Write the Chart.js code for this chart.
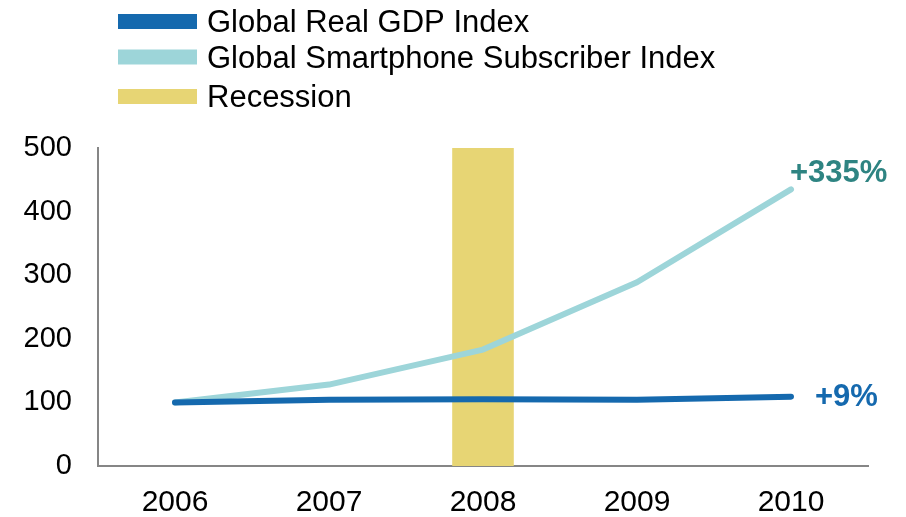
<!DOCTYPE html>
<html>
<head>
<meta charset="utf-8">
<script src="https://cdn.jsdelivr.net/npm/chart.js@4"></script>
<style>
  html, body { margin: 0; padding: 0; background: #fff; }
  #wrap { width: 906px; height: 517px; }
</style>
</head>
<body>
<div id="wrap"><canvas id="myChart"></canvas></div>
<script>
// index values, 2006 = 100
const years = ['2006', '2007', '2008', '2009', '2010'];
const gdpIndex = [100, 104, 105, 104, 109];
const smartphoneIndex = [100, 128, 183, 289, 435];
const recession = [null, null, 500, null, null];
const yTicks = [0, 100, 200, 300, 400, 500];

const FONT = '"Liberation Sans", Arial, sans-serif';
const GDP_BLUE = '#1569ae';
const PHONE_BLUE = '#9dd5d9';
const YELLOW = '#e7d574';

// stacked legend at the top left
const legendRows = [21.5, 57, 96.5];
const legendStack = {
  id: 'legendStack',
  afterDraw(chart) {
    const ctx = chart.ctx;
    ctx.save();
    ctx.font = '31px ' + FONT;
    ctx.textBaseline = 'middle';
    chart.data.datasets.forEach((ds, i) => {
      const y = legendRows[i];
      ctx.fillStyle = ds.legendColor;
      ctx.fillRect(118, y - 7.5, 79, 15);
      ctx.fillStyle = '#000';
      ctx.fillText(ds.label, 207, y + 2);
    });
    ctx.restore();
  }
};

// growth labels at the end of each line
const endLabels = {
  id: 'endLabels',
  afterDatasetsDraw(chart) {
    const ctx = chart.ctx;
    const x = chart.scales.x;
    const y = chart.scales.y;
    const last = years.length - 1;
    const pct = arr => '+' + Math.round((arr[last] / arr[0] - 1) * 100) + '%';
    ctx.save();
    ctx.font = 'bold 31px ' + FONT;
    ctx.textBaseline = 'middle';
    ctx.textAlign = 'left';
    ctx.fillStyle = '#2e8482';
    ctx.fillText(pct(smartphoneIndex), x.getPixelForValue(last) - 1, y.getPixelForValue(smartphoneIndex[last]) - 16);
    ctx.fillStyle = GDP_BLUE;
    ctx.fillText(pct(gdpIndex), x.getPixelForValue(last) + 24, y.getPixelForValue(gdpIndex[last]) + 1);
    ctx.restore();
  }
};

const ctx = document.getElementById('myChart');

new Chart(ctx, {
  data: {
    labels: years,
    datasets: [{
      type: 'line',
      label: 'Global Real GDP Index',
      data: gdpIndex,
      borderColor: GDP_BLUE,
      legendColor: GDP_BLUE,
      borderWidth: 6,
      borderCapStyle: 'round',
      borderJoinStyle: 'round',
      pointRadius: 0,
      tension: 0,
      order: 1
    }, {
      type: 'line',
      label: 'Global Smartphone Subscriber Index',
      data: smartphoneIndex,
      borderColor: PHONE_BLUE,
      legendColor: PHONE_BLUE,
      borderWidth: 6,
      borderCapStyle: 'round',
      borderJoinStyle: 'round',
      pointRadius: 0,
      tension: 0,
      order: 2
    }, {
      type: 'bar',
      label: 'Recession',
      data: recession,
      backgroundColor: YELLOW,
      legendColor: YELLOW,
      barPercentage: 0.4,
      categoryPercentage: 1,
      order: 3
    }]
  },
  options: {
    responsive: true,
    maintainAspectRatio: false,
    animation: false,
    layout: { padding: { top: 148, right: 38, left: 0, bottom: 0 } },
    plugins: {
      legend: { display: false },
      tooltip: { enabled: false }
    },
    scales: {
      x: {
        offset: true,
        grid: { display: false, drawTicks: false },
        border: { color: '#868686', width: 2 },
        ticks: { color: '#000', font: { family: FONT, size: 30 }, padding: 19 },
        afterFit: s => { s.height = 51; }
      },
      y: {
        min: 0,
        max: 500,
        afterBuildTicks: s => { s.ticks = yTicks.map(v => ({ value: v })); },
        grid: { display: false, drawTicks: false },
        border: { color: '#868686', width: 2 },
        ticks: { color: '#000', font: { family: FONT, size: 29 }, padding: 26 },
        afterFit: s => { s.width = 98; }
      }
    }
  },
  plugins: [legendStack, endLabels]
});
</script>
</body>
</html>
